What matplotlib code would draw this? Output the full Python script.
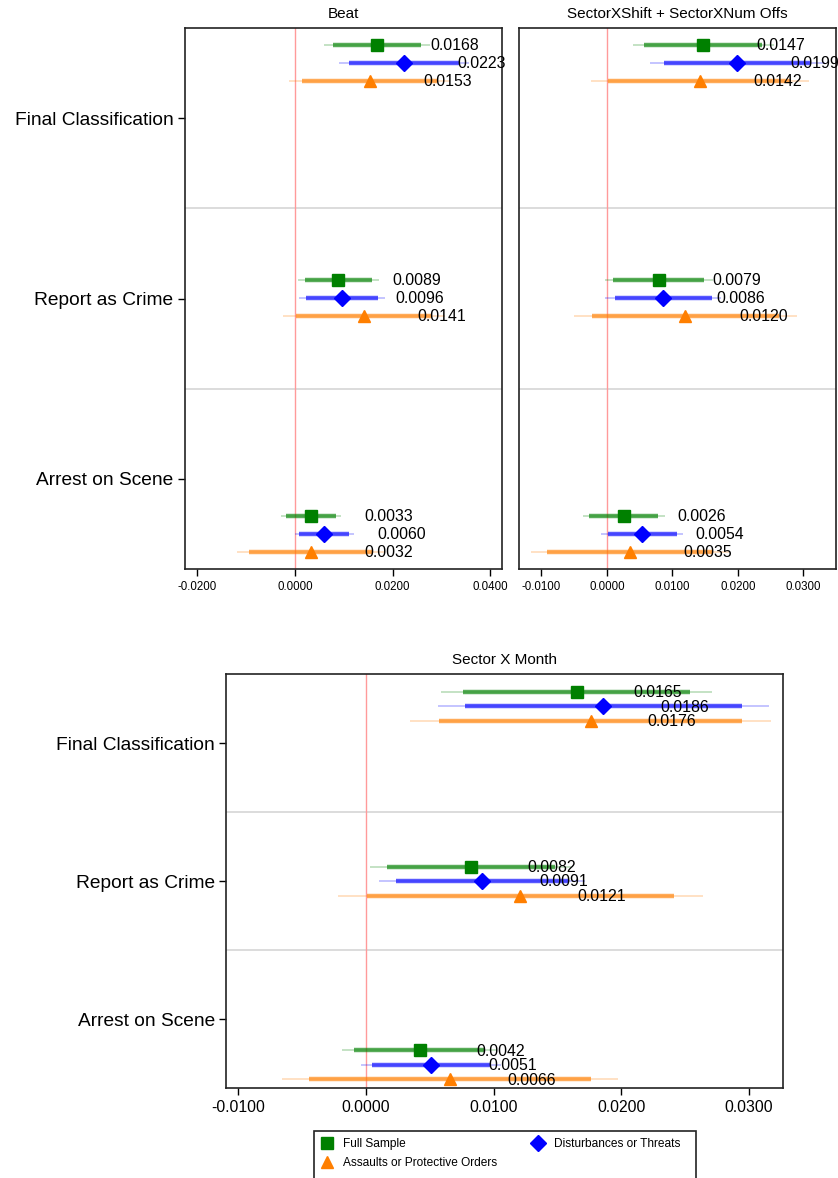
import matplotlib
matplotlib.use("Agg")
import matplotlib.pyplot as plt
from matplotlib.lines import Line2D
from matplotlib.patches import Rectangle
import numpy as np

plt.rcParams['font.family'] = ['Liberation Sans', 'DejaVu Sans']

# Outcomes (rows) and estimation samples (series)
outcomes = ["Final Classification", "Report as Crime", "Arrest on Scene"]
series_names = ["Full Sample", "Disturbances or Threats", "Assaults or Protective Orders"]

# Beat fixed effects: point estimates and standard errors
beat_full = [0.0168, 0.0089, 0.0033]
beat_full_se = [0.0055, 0.0042, 0.0031]
beat_dist = [0.0223, 0.0096, 0.0060]
beat_dist_se = [0.0068, 0.0045, 0.0031]
beat_assault = [0.0153, 0.0141, 0.0032]
beat_assault_se = [0.0084, 0.0085, 0.0077]

# Sector x Shift + Sector x Number of officers
shift_full = [0.0147, 0.0079, 0.0026]
shift_full_se = [0.0055, 0.0042, 0.0032]
shift_dist = [0.0199, 0.0086, 0.0054]
shift_dist_se = [0.0068, 0.0045, 0.0032]
shift_assault = [0.0142, 0.0120, 0.0035]
shift_assault_se = [0.0085, 0.0087, 0.0077]

# Sector x Month
month_full = [0.0165, 0.0082, 0.0042]
month_full_se = [0.0054, 0.0040, 0.0031]
month_dist = [0.0186, 0.0091, 0.0051]
month_dist_se = [0.0066, 0.0041, 0.0028]
month_assault = [0.0176, 0.0121, 0.0066]
month_assault_se = [0.0072, 0.0073, 0.0067]

colors = ["#008000", "#0000ff", "#ff7f00"]
markers = ["s", "D", "^"]
msizes = [8.3, 8.3, 9.3]

W, H = 838, 1178
fig = plt.figure(figsize=(W / 100, H / 100), dpi=100)


def frac(left, top, right, bottom):
    return [left / W, 1 - bottom / H, (right - left) / W, (bottom - top) / H]


def draw_panel(ax, title, coefs, ses, centers, step, xlim, ticks,
               ticksize, show_y, label_off):
    for g in (1, 2):
        ax.axhline(g, color="#d9d9d9", lw=1.3, zorder=1)
    ax.axvline(0, color="#ff9a9a", lw=1.0, zorder=1)
    for s, (b, se) in enumerate(zip(coefs, ses)):
        b = np.asarray(b)
        se = np.asarray(se)
        y = np.asarray(centers) + (s - 1) * step
        ax.hlines(y, b - 1.96 * se, b + 1.96 * se, color=colors[s],
                  alpha=0.25, lw=1.3, zorder=2)
        ax.hlines(y, b - 1.645 * se, b + 1.645 * se, color=colors[s],
                  alpha=0.65, lw=3.2, zorder=3)
        ax.plot(b, y, ls="none", marker=markers[s], ms=msizes[s],
                color=colors[s], mec=colors[s], zorder=4)
        for bi, yi in zip(b, y):
            ax.annotate(f"{bi:.4f}", (bi, yi), xytext=(label_off, -0.5),
                        textcoords="offset points", ha="left", va="center",
                        fontsize=11.4, zorder=5)
    ax.set_xlim(*xlim)
    ax.set_ylim(3, 0)
    ax.set_xticks(ticks)
    ax.set_xticklabels([f"{t:.4f}" for t in ticks])
    ax.tick_params(axis="x", direction="out", length=5, width=1,
                   labelsize=ticksize, pad=3.5)
    if show_y:
        ax.set_yticks([0.5, 1.5, 2.5])
        ax.set_yticklabels(outcomes)
        ax.tick_params(axis="y", direction="out", length=5, width=1,
                       labelsize=13.8, pad=3)
    else:
        ax.set_yticks([])
    for sp in ax.spines.values():
        sp.set_color("#222222")
        sp.set_linewidth(1.2)
    ax.set_title(title, fontsize=11, pad=7)


ax1 = fig.add_axes(frac(184.7, 28, 501.7, 569))
draw_panel(ax1, "Beat",
           [beat_full, beat_dist, beat_assault],
           [beat_full_se, beat_dist_se, beat_assault_se],
           [0.194, 1.497, 2.806], 0.1, (-0.02258, 0.04231),
           [-0.02, 0.0, 0.02, 0.04], 8.3, True, 38.5)

ax2 = fig.add_axes(frac(519, 28, 835.5, 569))
draw_panel(ax2, "SectorXShift + SectorXNum Offs",
           [shift_full, shift_dist, shift_assault],
           [shift_full_se, shift_dist_se, shift_assault_se],
           [0.194, 1.497, 2.806], 0.1, (-0.01341, 0.0349),
           [-0.01, 0.0, 0.01, 0.02, 0.03], 8.3, False, 38.5)

ax3 = fig.add_axes(frac(226.3, 674, 782.7, 1088.3))
draw_panel(ax3, "Sector X Month",
           [month_full, month_dist, month_assault],
           [month_full_se, month_dist_se, month_assault_se],
           [0.235, 1.5, 2.83], 0.105, (-0.01093, 0.03264),
           [-0.01, 0.0, 0.01, 0.02, 0.03], 11.3, True, 41)

# Legend
handles = [Line2D([], [], ls="none", marker=markers[i], ms=msizes[i],
                  color=colors[i]) for i in range(3)]
order = [0, 2, 1]
fig.legend([handles[i] for i in order], [series_names[i] for i in order],
           loc="upper left", bbox_to_anchor=(314 / W, 1 - 1131 / H),
           ncol=2, frameon=False, fontsize=8.6, handlelength=1.0,
           handletextpad=0.85, columnspacing=2.9, labelspacing=0.55,
           borderpad=0.6, borderaxespad=0)
fig.patches.append(Rectangle((314 / W, -0.02), (695.7 - 314) / W,
                             1 - 1130.7 / H + 0.02, transform=fig.transFigure,
                             fill=False, ec="#222222", lw=1.2))

fig.savefig("out.png", dpi=100)
